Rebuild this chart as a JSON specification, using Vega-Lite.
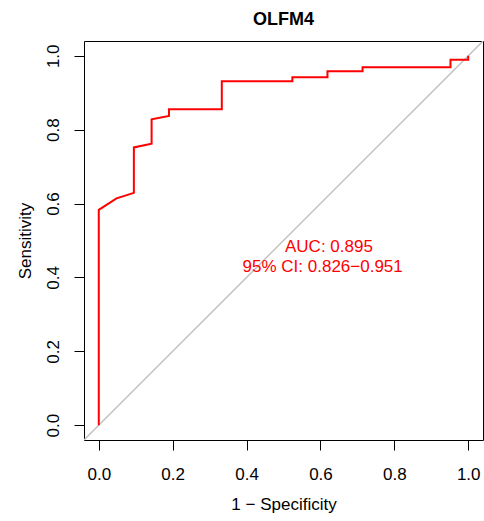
{
  "$schema": "https://vega.github.io/schema/vega-lite/v6.json",
  "width": 399,
  "height": 399,
  "autosize": {"type": "none"},
  "padding": {"left": 84, "top": 41, "right": 1, "bottom": 81},
  "background": "white",
  "config": {
    "font": "Liberation Sans",
    "view": {"stroke": "black", "strokeWidth": 1},
    "axis": {
      "grid": false,
      "domain": false,
      "tickColor": "black",
      "tickSize": 10,
      "tickWidth": 1,
      "labelFont": "Liberation Sans",
      "labelFontSize": 17,
      "labelColor": "black",
      "titleFont": "Liberation Sans",
      "titleFontSize": 17,
      "titleFontWeight": "normal",
      "titleColor": "black"
    }
  },
  "title": {
    "text": "OLFM4",
    "font": "Liberation Sans",
    "fontSize": 18,
    "fontWeight": "bold",
    "color": "black",
    "anchor": "middle",
    "frame": "group",
    "baseline": "bottom",
    "offset": 12,
    "dy": 18
  },
  "datasets": {
    "roc": [
      {"order": 1, "fpr": 0.0, "sens": 0.0},
      {"order": 2, "fpr": 0.0, "sens": 0.583},
      {"order": 3, "fpr": 0.048, "sens": 0.614},
      {"order": 4, "fpr": 0.095, "sens": 0.629},
      {"order": 5, "fpr": 0.095, "sens": 0.752},
      {"order": 6, "fpr": 0.143, "sens": 0.762},
      {"order": 7, "fpr": 0.143, "sens": 0.828},
      {"order": 8, "fpr": 0.19, "sens": 0.837},
      {"order": 9, "fpr": 0.19, "sens": 0.855},
      {"order": 10, "fpr": 0.333, "sens": 0.855},
      {"order": 11, "fpr": 0.333, "sens": 0.931},
      {"order": 12, "fpr": 0.524, "sens": 0.931},
      {"order": 13, "fpr": 0.524, "sens": 0.942},
      {"order": 14, "fpr": 0.619, "sens": 0.942},
      {"order": 15, "fpr": 0.619, "sens": 0.958},
      {"order": 16, "fpr": 0.714, "sens": 0.958},
      {"order": 17, "fpr": 0.714, "sens": 0.969},
      {"order": 18, "fpr": 0.952, "sens": 0.969},
      {"order": 19, "fpr": 0.952, "sens": 0.989},
      {"order": 20, "fpr": 1.0, "sens": 0.989},
      {"order": 21, "fpr": 1.0, "sens": 1.0}
    ],
    "diag": [
      {"fpr": -0.04, "sens": -0.04},
      {"fpr": 1.04, "sens": 1.04}
    ],
    "labels": [
      {"fpr": 0.623, "sens": 0.483, "label": "AUC: 0.895"},
      {"fpr": 0.606, "sens": 0.427, "label": "95% CI: 0.826−0.951"}
    ]
  },
  "encoding": {
    "x": {
      "field": "fpr",
      "type": "quantitative",
      "scale": {"domain": [-0.04, 1.04], "nice": false, "zero": false},
      "axis": {
        "title": "1 − Specificity",
        "values": [0, 0.2, 0.4, 0.6, 0.8, 1.0],
        "format": ".1f",
        "labelPadding": 16,
        "labelBaseline": "top",
        "titleX": 199.5,
        "titleY": 64,
        "titleBaseline": "middle"
      }
    },
    "y": {
      "field": "sens",
      "type": "quantitative",
      "scale": {"domain": [-0.04, 1.04], "nice": false, "zero": false},
      "axis": {
        "title": "Sensitivity",
        "values": [0, 0.2, 0.4, 0.6, 0.8, 1.0],
        "format": ".1f",
        "labelAngle": 270,
        "labelAlign": "center",
        "labelBaseline": "bottom",
        "labelPadding": 12,
        "titleX": -59,
        "titleY": 199.5,
        "titleAngle": 270,
        "titleBaseline": "middle",
        "titleAlign": "center"
      }
    }
  },
  "layer": [
    {
      "data": {"name": "diag"},
      "mark": {"type": "line", "color": "#BEBEBE", "strokeWidth": 1.3, "clip": true}
    },
    {
      "data": {"name": "roc"},
      "mark": {"type": "line", "color": "#FF0000", "strokeWidth": 2},
      "encoding": {"order": {"field": "order", "type": "quantitative"}}
    },
    {
      "data": {"name": "labels"},
      "mark": {"type": "text", "color": "#FF0000", "fontSize": 17, "font": "Liberation Sans", "align": "center", "baseline": "middle"},
      "encoding": {"text": {"field": "label", "type": "nominal"}}
    }
  ]
}
